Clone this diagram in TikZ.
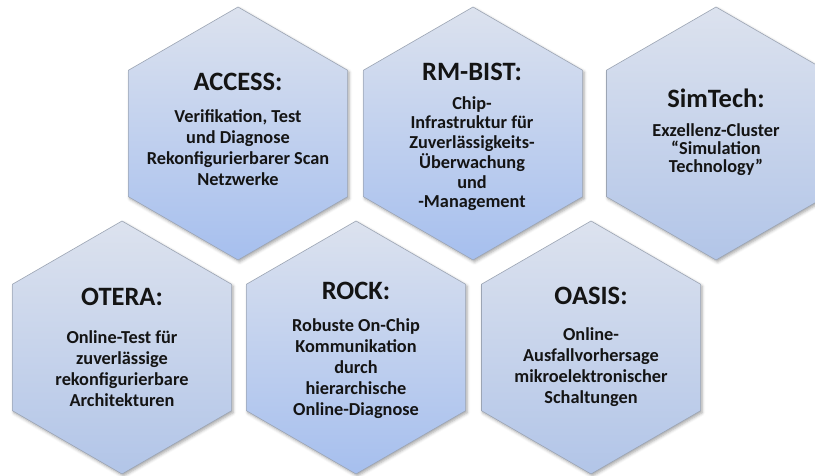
\documentclass[tikz,border=0pt]{standalone}
\usepackage{fontspec}
\setmainfont{Carlito}
\usetikzlibrary{shadows.blur}

% cell colours
\definecolor{cellTop}{HTML}{DCE2EE}
\definecolor{cellBotA}{HTML}{A6BFEE}
\definecolor{cellBotB}{HTML}{B2C5E8}
\definecolor{cellLine}{HTML}{9CA5B4}
\definecolor{txtcol}{HTML}{141414}

% one pointy-top hexagon of circumradius 126.5pt around a named centre
\newcommand\hexcell[4]{%
  \coordinate (#1) at (#2pt,#3pt);
  \path[cellbase,#4,shift={(#1)}]
    (90:126.5pt) -- (150:126.5pt) -- (210:126.5pt) -- (270:126.5pt)
    -- (330:126.5pt) -- (30:126.5pt) -- cycle;}

\tikzset{
  cellbase/.style={draw=cellLine, line width=0.6pt, line join=miter,
    blur shadow={shadow xshift=1.5pt, shadow yshift=-2pt,
      shadow blur radius=3pt, shadow opacity=35}},
  vivid/.style={top color=cellTop, bottom color=cellBotA},
  muted/.style={top color=cellTop, bottom color=cellBotB},
  ttl/.style={font=\fontsize{26.5}{30}\selectfont\bfseries, anchor=base,
    inner sep=0pt, text=txtcol},
  % descriptions: anchored at the baseline of their last line
  bdy/.style={font=\fontsize{18.3}{#1}\selectfont\bfseries, align=center,
    anchor=base, inner sep=0pt, text=txtcol},
  bdy/.default=21pt
}

\begin{document}
\begin{tikzpicture}[x=1pt,y=1pt]
  \useasboundingbox (0,0) rectangle (815,475);

  % honeycomb cells
  \hexcell{access}{238}{341.5}{vivid}
  \hexcell{rmbist}{473}{341.5}{vivid}
  \hexcell{simtech}{716}{341.5}{muted}
  \hexcell{otera}{122}{127.5}{muted}
  \hexcell{rock}{356}{127.5}{vivid}
  \hexcell{oasis}{591}{127.5}{muted}

  % titles
  \node[ttl] (accessT)  at (238,384) {ACCESS:};
  \node[ttl] (rmbistT)  at (472,394) {RM-BIST:};
  \node[ttl] (simtechT) at (716,367) {SimTech:};
  \node[ttl] (oteraT)   at (122,170) {OTERA:};
  \node[ttl] (rockT)    at (356,176) {ROCK:};
  \node[ttl] (oasisT)   at (591,171) {OASIS:};

  % descriptions
  \node[bdy=21.3pt] (accessB) at (238,289)
    {Verifikation, Test\\und Diagnose\\Rekonfigurierbarer Scan\\Netzwerke};
  \node[bdy=19.8pt] (rmbistB) at (472,267)
    {Chip-\\Infrastruktur für\\Zuverlässigkeits-\\Überwachung\\und\\-Management};
  \node[bdy=18.5pt] (simtechB) at (716,302)
    {Exzellenz-Cluster\\“Simulation\\Technology”};
  \node[bdy] (oteraB) at (122,69)
    {Online-Test für\\zuverlässige\\rekonfigurierbare\\Architekturen};
  \node[bdy] (rockB) at (356,60)
    {Robuste On-Chip\\Kommunikation\\durch\\hierarchische\\Online-Diagnose};
  \node[bdy] (oasisB) at (591,72)
    {Online-\\Ausfallvorhersage\\mikroelektronischer\\Schaltungen};
\end{tikzpicture}
\end{document}
